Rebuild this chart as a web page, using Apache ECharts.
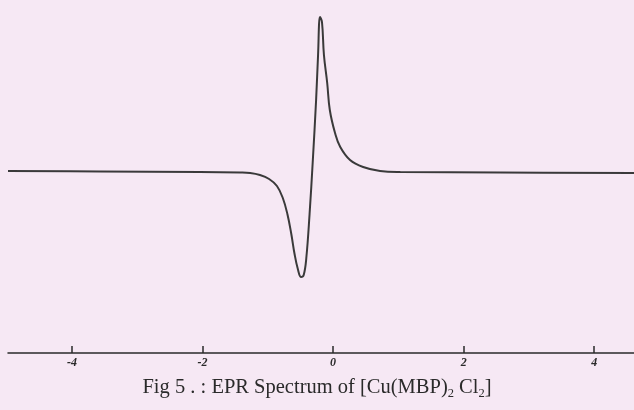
<!DOCTYPE html>
<html><head><meta charset="utf-8">
<script src="https://cdn.jsdelivr.net/npm/echarts@6/dist/echarts.min.js"></script>
<style>html,body{margin:0;padding:0;background:#f6e8f4;}#c{width:634px;height:410px;}</style>
</head><body><div id="c"></div>
<script>
// Field offset (arbitrary units) and signal intensity (arbitrary units)
const fieldX = [-4.98,-3.57,-2.04,-1.42,-1.27,-1.12,-0.98,-0.86,-0.77,-0.70,-0.64,-0.59,-0.54,-0.49,-0.45,-0.41,-0.36,-0.31,-0.26,-0.23,-0.20,-0.17,-0.14,-0.09,-0.05,0.03,0.11,0.26,0.46,0.72,1.03,2.56,4.61];
const signalY = [0.1,0.05,0,-0.05,-0.1,-0.3,-0.7,-1.4,-2.6,-4.2,-6.2,-8.2,-9.7,-10.5,-10.3,-8.6,-4.2,1.2,7.2,11.7,15.5,15.0,11.7,8.9,6.2,3.9,2.5,1.2,0.5,0.1,0,-0.05,-0.1];
const tickValues = [-4,-2,0,2,4];
const tickLabels = ['-4','-2','0','2','4'];

const chart = echarts.init(document.getElementById('c'));
chart.setOption({
  backgroundColor: '#f6e8f4',
  animation: false,
  title: {
    text: '{a|Fig 5 . : EPR Spectrum of [Cu(MBP)}{s|2}{a| Cl}{s|2}{a|]}',
    left: 'center', top: 371,
    textStyle: {
      fontWeight: 'normal',
      rich: {
        a: {fontFamily: 'Liberation Serif', fontWeight: 'normal', fontSize: 20.5, color: '#2a2a2a', lineHeight: 24},
        s: {fontFamily: 'Liberation Serif', fontWeight: 'normal', fontSize: 12.5, color: '#2a2a2a', lineHeight: 24, verticalAlign: 'bottom'}
      }
    }
  },
  grid: {left: 8, right: 0, top: 15, bottom: 57},
  xAxis: {
    type: 'value', min: -4.98, max: 4.61,
    axisLine: {onZero: false, lineStyle: {color: '#2a2a2a', width: 1.5}},
    axisTick: {show: true, customValues: tickValues, length: 7, inside: true, lineStyle: {color: '#2a2a2a', width: 1.5}},
    axisLabel: {customValues: tickValues, formatter: v => tickLabels[tickValues.indexOf(v)], fontStyle: 'italic', fontWeight: 'bold', fontSize: 12, color: '#2a2a2a', fontFamily: 'Liberation Serif', margin: 4},
    splitLine: {show: false}
  },
  yAxis: {
    type: 'value', min: -18.1, max: 15.7,
    show: false, splitLine: {show: false}
  },
  series: [{
    type: 'line', smooth: 0.4, symbol: 'none',
    data: fieldX.map((x, i) => [x, signalY[i]]),
    lineStyle: {color: '#3a3a3a', width: 2}
  }]
});
</script></body></html>
